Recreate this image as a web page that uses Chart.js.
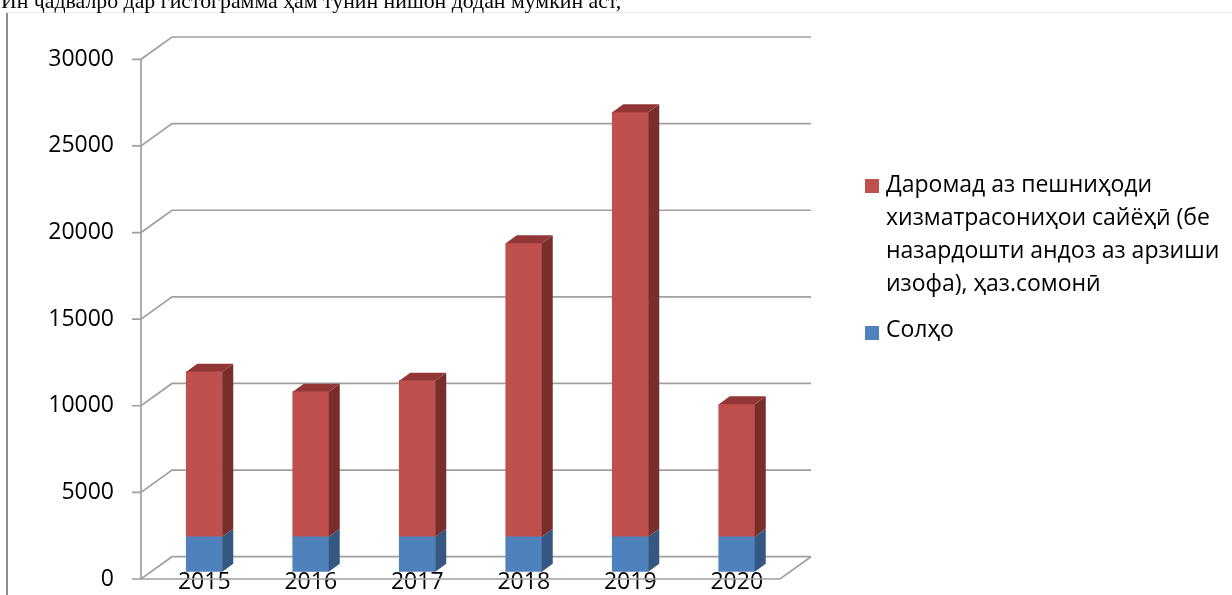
<!DOCTYPE html>
<html>
<head>
<meta charset="utf-8">
<script src="https://cdn.jsdelivr.net/npm/chart.js@4/dist/chart.umd.min.js"></script>
<style>
  html, body { margin: 0; padding: 0; background: #fff; overflow: hidden; }
  #wrap { position: relative; width: 1232px; height: 595px; }
  #c { position: absolute; left: 0; top: 0; }
  #caption { position: absolute; left: 1px; top: -10px; font-family: "Liberation Serif", serif; font-size: 21.8px; line-height: 22px; white-space: nowrap; color: #000; }
  #hline { position: absolute; left: 7px; top: 12px; width: 1225px; height: 1px; background: #ebebeb; }
  #vline { position: absolute; left: 6px; top: 13px; width: 2px; height: 582px; background: #8e8e8e; }
  .lg { position: absolute; left: 865px; font-family: "Open Sans", sans-serif; font-size: 23px; line-height: 33px; color: #000; white-space: nowrap; }
  .lg .sw { position: absolute; left: 0; width: 14px; height: 14px; }
  .lg .tx { position: absolute; left: 21px; top: 0; }
</style>
</head>
<body>
<div id="wrap">
  <canvas id="c" width="1232" height="595"></canvas>
  <div id="hline"></div>
  <div id="vline"></div>
  <div id="caption">Ин ҷадвалро дар гистограмма ҳам тунин нишон додан мумкин аст,</div>
  <div id="legend"></div>
</div>
<script>
// ---- data ----
const categories = ['2015', '2016', '2017', '2018', '2019', '2020'];
const yearSeries = [2015, 2016, 2017, 2018, 2019, 2020];
const incomeSeries = [9530, 8375, 9010, 16940, 24500, 7645];
const yearLabel = 'Солҳо';
const incomeLabelLines = ['Даромад аз пешниҳоди', 'хизматрасониҳои сайёҳӣ (бе', 'назардошти андоз аз арзиши', 'изофа), ҳаз.сомонӣ'];
const yMin = 0, yMax = 30000, yStep = 5000;

// ---- style ----
const FRONT_DX = 10, FRONT_DY = 7.3;   // front plane offset from bar plane
const BACK_DX = 21, BACK_DY = 15;      // back wall offset from bar plane
const BAR_DX = 11, BAR_DY = 8;         // bar depth
const GRID = '#a0a0a0';

const depth3d = {
  id: 'depth3d',
  beforeDatasetsDraw(chart) {
    const { ctx, chartArea: a, scales: { y } } = chart;
    ctx.save();
    ctx.strokeStyle = GRID;
    ctx.lineWidth = 1.7;
    y.ticks.forEach(t => {
      const py = y.getPixelForValue(t.value);
      ctx.beginPath();
      ctx.moveTo(a.left - FRONT_DX - 9, py + FRONT_DY);
      ctx.lineTo(a.left - FRONT_DX, py + FRONT_DY);
      ctx.lineTo(a.left + BACK_DX, py - BACK_DY);
      ctx.lineTo(a.right + BACK_DX, py - BACK_DY);
      ctx.stroke();
    });
    const p0 = y.getPixelForValue(yMin), p1 = y.getPixelForValue(yMax);
    ctx.beginPath();
    ctx.moveTo(a.left - FRONT_DX, p0 + FRONT_DY);
    ctx.lineTo(a.left - FRONT_DX, p1 + FRONT_DY);
    ctx.stroke();
    ctx.restore();
  },
  afterDatasetsDraw(chart) {
    const { ctx, chartArea: a, scales: { y } } = chart;
    const n = chart.data.datasets.length;
    ctx.save();
    chart.data.datasets.forEach((ds, di) => {
      const meta = chart.getDatasetMeta(di);
      meta.data.forEach(bar => {
        const { x, y: top, base, width } = bar.getProps(['x', 'y', 'base', 'width'], true);
        const r = x + width / 2, l = x - width / 2;
        ctx.fillStyle = ds.sideColor;
        ctx.beginPath();
        ctx.moveTo(r, top);
        ctx.lineTo(r + BAR_DX, top - BAR_DY);
        ctx.lineTo(r + BAR_DX, base - BAR_DY);
        ctx.lineTo(r, base);
        ctx.closePath();
        ctx.fill();
        if (di === n - 1) {
          ctx.fillStyle = ds.topColor;
          ctx.beginPath();
          ctx.moveTo(l, top);
          ctx.lineTo(l + BAR_DX, top - BAR_DY);
          ctx.lineTo(r + BAR_DX, top - BAR_DY);
          ctx.lineTo(r, top);
          ctx.closePath();
          ctx.fill();
        }
      });
    });
    // floor front and right edges
    const p0 = y.getPixelForValue(yMin);
    ctx.strokeStyle = GRID;
    ctx.lineWidth = 1.7;
    ctx.beginPath();
    ctx.moveTo(a.left - FRONT_DX, p0 + FRONT_DY);
    ctx.lineTo(a.right - FRONT_DX, p0 + FRONT_DY);
    ctx.lineTo(a.right + BACK_DX, p0 - BACK_DY);
    ctx.stroke();
    ctx.restore();
  }
};

const font = { family: '"Open Sans", sans-serif', size: 23 };

const chart = new Chart(document.getElementById('c'), {
  type: 'bar',
  data: {
    labels: categories,
    datasets: [
      { label: yearLabel, data: yearSeries, backgroundColor: '#4F81BD', sideColor: '#355883', topColor: '#3d6aa0', borderWidth: 0, barThickness: 36 },
      { label: incomeLabelLines.join(' '), data: incomeSeries, backgroundColor: '#C0504D', sideColor: '#7A2E2C', topColor: '#923735', borderWidth: 0, barThickness: 36 }
    ]
  },
  options: {
    responsive: false,
    animation: false,
    events: [],
    layout: { padding: { left: 0, right: 442, top: 52, bottom: 0 } },
    plugins: { legend: { display: false }, tooltip: { enabled: false } },
    scales: {
      x: {
        stacked: true,
        z: 1,
        grid: { display: false, drawTicks: false },
        border: { display: false },
        ticks: { font, color: '#000', padding: -3, maxRotation: 0 },
        afterFit: s => { s.height = 23.3; }
      },
      y: {
        stacked: true,
        min: yMin, max: yMax,
        grid: { display: false, drawTicks: false },
        border: { display: false },
        ticks: { stepSize: yStep, font, color: '#000', padding: 37, labelOffset: 7.3, callback: v => String(v) },
        afterFit: s => { s.width = 151; s.paddingTop = 0; s.paddingBottom = 0; }
      }
    }
  },
  plugins: [depth3d]
});

// ---- HTML legend (series order reversed, as in the reference) ----
const legend = document.getElementById('legend');
const items = [
  { lines: incomeLabelLines, color: chart.data.datasets[1].backgroundColor, top: 167, sw: 11.5 },
  { lines: [yearLabel], color: chart.data.datasets[0].backgroundColor, top: 312, sw: 13.5 }
];
items.forEach(it => {
  const d = document.createElement('div');
  d.className = 'lg';
  d.style.top = it.top + 'px';
  const sw = document.createElement('div');
  sw.className = 'sw';
  sw.style.top = it.sw + 'px';
  sw.style.background = it.color;
  const tx = document.createElement('div');
  tx.className = 'tx';
  tx.innerHTML = it.lines.map(s => s.replace(/&/g, '&amp;').replace(/</g, '&lt;')).join('<br>');
  d.appendChild(sw);
  d.appendChild(tx);
  legend.appendChild(d);
});
</script>
</body>
</html>
